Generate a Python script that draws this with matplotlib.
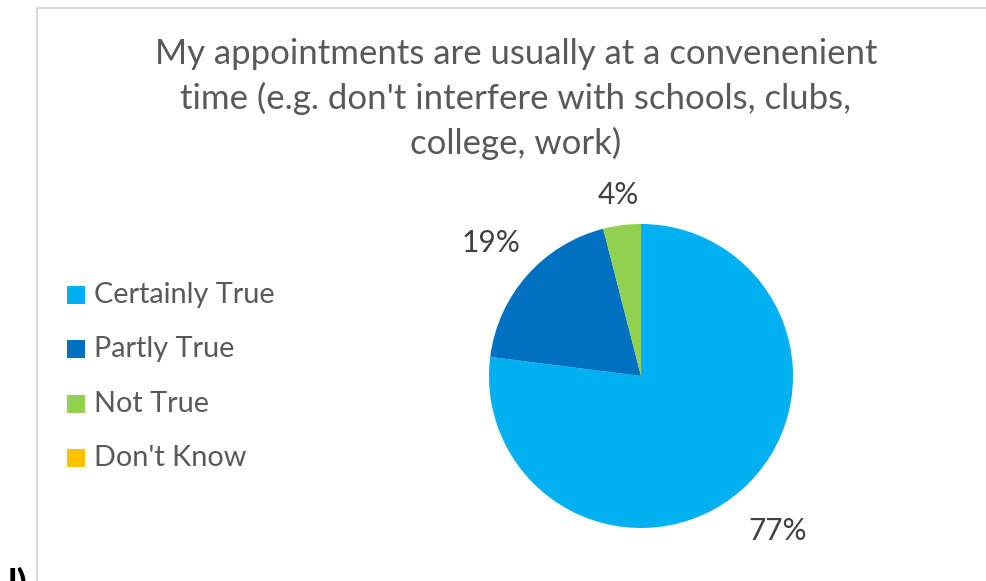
import matplotlib
matplotlib.use("Agg")
import matplotlib.pyplot as plt
from matplotlib.patches import Rectangle
import numpy as np

plt.rcParams['font.family'] = ['Lato', 'DejaVu Sans']

title = "My appointments are usually at a convenenient\ntime (e.g. don't interfere with schools, clubs,\ncollege, work)"
categories = ["Certainly True", "Partly True", "Not True", "Don't Know"]
values = [77, 19, 4, 0]
colors = ["#00B0F0", "#0070C0", "#92D050", "#FFC000"]

W, H = 987, 581
fig = plt.figure(figsize=(W / 100, H / 100), dpi=100)
fig.patch.set_facecolor("white")

# chart area frame (extends beyond the right and bottom edges)
frame = Rectangle((37 / W, -0.1), 1.2, 1 - 8 / H + 0.1, transform=fig.transFigure,
                  fill=False, edgecolor="#D9D9D9", linewidth=1.5)
fig.add_artist(frame)

fig.text(516 / W, 1 - 99 / H, title, ha="center", va="center", fontsize=25,
         color="#595959", linespacing=1.45)

# pie
r = 152
cx, cy = 641, 376
ax = fig.add_axes([(cx - r) / W, 1 - (cy + r) / H, 2 * r / W, 2 * r / H])
wedges, _ = ax.pie(values, colors=colors, startangle=90, counterclock=False,
                   radius=1.0, wedgeprops=dict(linewidth=0))
ax.set_xlim(-1, 1)
ax.set_ylim(-1, 1)
ax.set_aspect("equal")
ax.axis("off")

total = sum(values)
start = 90.0
label_r = [1.36, 1.32, 1.2, 1.2]
for v, lr in zip(values, label_r):
    sweep = 360.0 * v / total
    if v > 0:
        mid = np.deg2rad(start - sweep / 2)
        ax.text(lr * np.cos(mid), lr * np.sin(mid), f"{v}%", ha="center", va="center",
                fontsize=21.5, color="#404040", clip_on=False)
    start -= sweep

# legend
leg_y = [295, 349, 404, 458]
for name, col, y in zip(categories, colors, leg_y):
    fig.add_artist(Rectangle((67 / W, 1 - (y + 9) / H), 18 / W, 18 / H,
                             transform=fig.transFigure, facecolor=col, edgecolor="none"))
    fig.text(94 / W, 1 - y / H, name, ha="left", va="center", fontsize=20.8, color="#595959")

fig.text(8 / W, 1 - 597 / H, "l)", ha="left", va="baseline", fontsize=28,
         fontweight="bold", color="black")

fig.savefig("out.png", dpi=100)
